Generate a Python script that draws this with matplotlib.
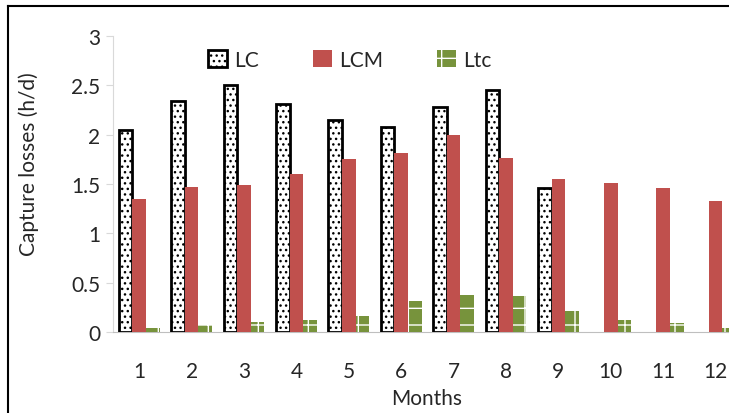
import numpy as np
import matplotlib
matplotlib.use('Agg')
from matplotlib import pyplot as plt
from matplotlib.lines import Line2D

plt.rcParams['font.family'] = ['Lato', 'DejaVu Sans']
plt.rcParams['hatch.linewidth'] = 1.0

# data (LC has no value for months 10-12)
months = ['1', '2', '3', '4', '5', '6', '7', '8', '9', '10', '11', '12']
lc = [2.05, 2.34, 2.50, 2.31, 2.15, 2.08, 2.28, 2.45, 1.46, None, None, None]
lcm = [1.35, 1.47, 1.49, 1.60, 1.75, 1.81, 2.00, 1.76, 1.55, 1.51, 1.46, 1.33]
ltc = [0.04, 0.07, 0.10, 0.12, 0.16, 0.31, 0.37, 0.36, 0.21, 0.12, 0.09, 0.04]
yticks = [0, 0.5, 1, 1.5, 2, 2.5, 3]
ytick_labels = ['0', '0.5', '1', '1.5', '2', '2.5', '3']

W, H = 729, 414
fig = plt.figure(figsize=(W / 100, H / 100), dpi=100)
ax = fig.add_axes([113 / W, 81 / H, 628.8 / W, 296 / H])

x = np.arange(1, 13)
bw = 0.26
txt = '#262626'
lc_vals = np.array([np.nan if v is None else v for v in lc])

ax.bar(x - bw, lc_vals, bw, color='white', edgecolor='black', linewidth=2,
       hatch='...', label='LC', zorder=3)
ax.bar(x, lcm, bw, color='#C0504D', linewidth=0, label='LCM', zorder=3)
ax.bar(x + bw, ltc, bw, color='#77933C', edgecolor='white', linewidth=0,
       hatch='+', label='Ltc', zorder=3)

ax.set_xlim(0.5, 12.5)
ax.set_ylim(0, 3)
ax.set_yticks(yticks)
ax.set_yticklabels(ytick_labels)
ax.set_xticks(x)
ax.set_xticklabels(months)

for s in ['top', 'right']:
    ax.spines[s].set_visible(False)
ax.spines['left'].set_color('#D9D9D9')
ax.spines['bottom'].set_color('#BFBFBF')
ax.tick_params(axis='y', length=5, color='#D9D9D9', pad=4,
               labelsize=15, labelcolor=txt)
ax.tick_params(axis='x', length=0, pad=21, labelsize=15, labelcolor=txt)

fig.text(29 / W, 1 - 164 / H, 'Capture losses (h/d)', rotation=90,
         ha='center', va='center', fontsize=15, color=txt)
fig.text(427 / W, 1 - 399 / H, 'Months', ha='center', va='center',
         fontsize=15, color=txt)

fig.legend(loc='center', bbox_to_anchor=(350 / W, 1 - 61 / H), ncol=3,
           frameon=False, fontsize=15, handlelength=0.9, handleheight=0.9,
           handletextpad=0.35, columnspacing=2.6, labelcolor=txt)

# outer frame (only left and top edges visible)
fig.add_artist(Line2D([8 / W, 8 / W], [0, 1 - 7 / H], color='black', lw=1.5,
                      transform=fig.transFigure))
fig.add_artist(Line2D([8 / W, 1], [1 - 7 / H, 1 - 7 / H], color='black', lw=1.5,
                      transform=fig.transFigure))

plt.savefig('out.png', dpi=100)
